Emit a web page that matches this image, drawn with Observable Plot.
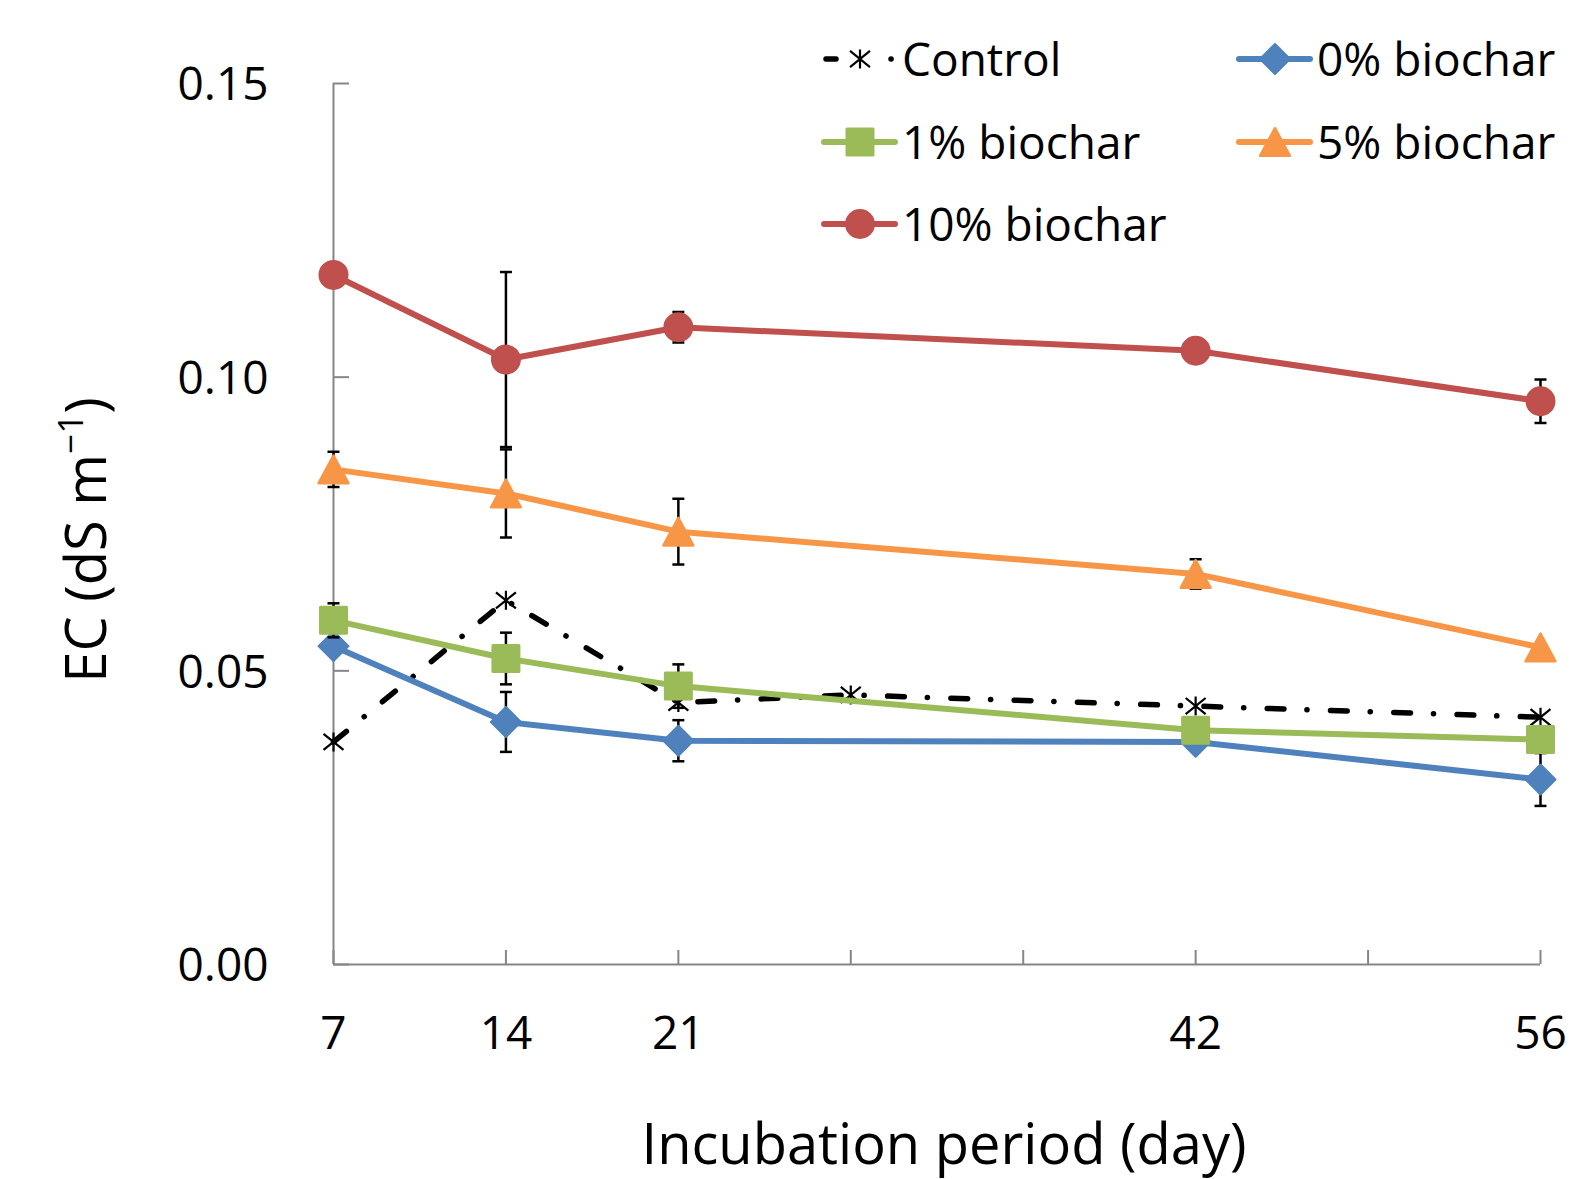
<!DOCTYPE html>
<html><head><meta charset="utf-8">
<script src="https://cdn.jsdelivr.net/npm/d3@7"></script>
<script src="https://cdn.jsdelivr.net/npm/@observablehq/plot@0.6"></script>
<style>
html,body{margin:0;padding:0;background:#fff;}
#wrap{position:relative;width:1585px;height:1179px;overflow:hidden;font-family:"Open Sans",sans-serif;}
#overlay{position:absolute;left:0;top:0;pointer-events:none;}
</style></head><body><div id="wrap"></div>
<script>
// ---- data ----
const days = [7, 14, 21, 42, 56];
const controlDays = [7, 14, 21, 28, 42, 56];
const controlEC = [0.0379, 0.0620, 0.0446, 0.0459, 0.0440, 0.0421];
const biochar0EC = [0.0542, 0.0413, 0.0381, 0.0379, 0.0315];
const biochar0Err = [0, 0.0051, 0.0035, 0, 0.0045];
const biochar1EC = [0.0586, 0.0521, 0.0474, 0.0399, 0.0383];
const biochar1Err = [0.0029, 0.0044, 0.0037, 0, 0];
const biochar5EC = [0.0843, 0.0802, 0.0737, 0.0665, 0.0540];
const biochar5Err = [0.0030, 0.0075, 0.0056, 0.0025, 0];
const biochar10EC = [0.1174, 0.1030, 0.1085, 0.1045, 0.0959];
const biochar10Err = [0, 0.0149, 0.0026, 0, 0.0037];
const seriesNames = ["Control", "0% biochar", "1% biochar", "5% biochar", "10% biochar"];
const seriesColors = ["#000000", "#4F81BD", "#9BBB59", "#F79646", "#C0504D"];
const xTicks = [7, 14, 21, 28, 35, 42, 49, 56];
const xTickLabels = [7, 14, 21, 42, 56];
const yTicks = [0, 0.05, 0.10, 0.15];
const xTitle = "Incubation period (day)";

// ---- symbols ----
const rad = s => Math.sqrt(s / Math.PI);
const symCircle = {draw(c, s){ const r = rad(s); c.moveTo(r, 0); c.arc(0, 0, r, 0, 2 * Math.PI); c.closePath(); }};
const symSquare = {draw(c, s){ const r = rad(s); c.moveTo(-r, -r); c.lineTo(r, -r); c.lineTo(r, r); c.lineTo(-r, r); c.closePath(); }};
const symDiamond = {draw(c, s){ const r = rad(s); c.moveTo(0, -r); c.lineTo(r, 0); c.lineTo(0, r); c.lineTo(-r, 0); c.closePath(); }};
const symTriangle = {draw(c, s){ const r = rad(s); c.moveTo(0, -r); c.lineTo(r * 1.08, r); c.lineTo(-r * 1.08, r); c.closePath(); }};
const symAsterisk = {draw(c, s){ const r = rad(s); c.moveTo(0, -r); c.lineTo(0, r); c.moveTo(-r * 1.05, -r * 0.85); c.lineTo(r * 1.05, r * 0.85); c.moveTo(-r * 1.05, r * 0.85); c.lineTo(r * 1.05, -r * 0.85); }};
const symCap = {draw(c, s){ const r = rad(s); c.moveTo(-r, 0); c.lineTo(r, 0); }};

const styles = [
  {symbol: symAsterisk, r: 9.5, fill: "none", sw: 2.2, dash: "16.7 23 0.1 23.5", lw: 5.5},
  {symbol: symDiamond, r: 15, fill: seriesColors[1], sw: 2, lw: 6},
  {symbol: symSquare, r: 13, fill: seriesColors[2], sw: 3, lw: 6},
  {symbol: symTriangle, r: 13.8, fill: seriesColors[3], sw: 2.5, lw: 6},
  {symbol: symCircle, r: 14, fill: seriesColors[4], sw: 2, lw: 6}
];

const seriesData = [
  {x: controlDays, y: controlEC, e: null},
  {x: days, y: biochar0EC, e: biochar0Err},
  {x: days, y: biochar1EC, e: biochar1Err},
  {x: days, y: biochar5EC, e: biochar5Err},
  {x: days, y: biochar10EC, e: biochar10Err}
];
const tables = seriesData.map((sd, k) => sd.x.map((d, i) => ({series: seriesNames[k], day: d, ec: sd.y[i], err: sd.e ? sd.e[i] : 0})));

const grey = "#868686";
const marks = [
  Plot.ruleY([0], {stroke: grey, strokeWidth: 2}),
  Plot.ruleX([7], {stroke: grey, strokeWidth: 2}),
  Plot.axisX(xTicks, {tickSize: -14, stroke: grey, strokeWidth: 2, fill: "none", label: null}),
  Plot.axisX(xTickLabels, {tickSize: 0, tickPadding: 52, fontSize: 46, fill: "black", label: null, tickFormat: d => String(d)}),
  Plot.axisY(yTicks, {tickSize: -16, stroke: grey, strokeWidth: 2, fill: "none", label: null}),
  Plot.axisY(yTicks, {tickSize: 0, tickPadding: 65, fontSize: 46, fill: "black", dy: 2, label: null, tickFormat: d3.format(".2f")})
];
tables.forEach((t, k) => {
  const st = styles[k];
  marks.push(Plot.line(t, {x: "day", y: "ec", stroke: seriesColors[k], strokeWidth: st.lw,
    strokeDasharray: st.dash, strokeLinecap: st.dash ? "round" : "butt", strokeLinejoin: "round"}));
  const et = t.filter(d => d.err > 0);
  if (et.length) {
    marks.push(Plot.ruleX(et, {x: "day", y1: d => d.ec - d.err, y2: d => d.ec + d.err, stroke: "black", strokeWidth: 2.5}));
    marks.push(Plot.dot(et, {x: "day", y: d => d.ec + d.err, symbol: symCap, r: 6, stroke: "black", strokeWidth: 2.5, fill: "none"}));
    marks.push(Plot.dot(et, {x: "day", y: d => d.ec - d.err, symbol: symCap, r: 6, stroke: "black", strokeWidth: 2.5, fill: "none"}));
  }
  marks.push(Plot.dot(t, {x: "day", y: "ec", symbol: st.symbol, r: st.r, fill: st.fill,
    stroke: seriesColors[k], strokeWidth: st.sw, strokeLinejoin: "round"}));
});

const chart = Plot.plot({
  width: 1585, height: 1179,
  marginLeft: 333, marginRight: 45, marginTop: 83, marginBottom: 215,
  x: {type: "linear", domain: [7, 56], axis: null},
  y: {type: "linear", domain: [0, 0.15], axis: null},
  style: {fontFamily: "'Open Sans', sans-serif", color: "black", background: "white"},
  marks
});
const wrap = document.getElementById("wrap");
wrap.appendChild(chart);

// ---- titles and legend overlay ----
const ov = d3.select(wrap).append("svg").attr("id", "overlay").attr("width", 1585).attr("height", 1179)
  .style("font-family", "'Open Sans', sans-serif");
ov.append("text").attr("x", 944).attr("y", 1164).attr("text-anchor", "middle").attr("font-size", 56).text(xTitle);
const yt = ov.append("text").attr("transform", "translate(106,540) rotate(-90)").attr("text-anchor", "middle").attr("font-size", 56);
yt.append("tspan").text("EC (dS m");
yt.append("tspan").attr("font-size", 35).attr("dy", -23).text("\u22121");
yt.append("tspan").attr("dy", 23).text(")");

const colX = [824, 1239], rowY = [59, 142, 224];
seriesNames.forEach((name, k) => {
  const st = styles[k];
  const g = ov.append("g").attr("transform", `translate(${colX[k % 2]},${rowY[Math.floor(k / 2)]})`);
  if (k === 0) {
    g.append("line").attr("x1", 2).attr("x2", 71).attr("stroke", "black").attr("stroke-width", 5.5)
      .attr("stroke-linecap", "round").attr("stroke-dasharray", "10 55 0.1 100");
  } else {
    g.append("line").attr("x1", 0).attr("x2", 71).attr("stroke", seriesColors[k]).attr("stroke-width", 6).attr("stroke-linecap", "round");
  }
  g.append("path").attr("transform", "translate(36,0)")
    .attr("d", d3.symbol(st.symbol, Math.PI * st.r * st.r)())
    .attr("fill", st.fill).attr("stroke", seriesColors[k]).attr("stroke-width", st.sw).attr("stroke-linejoin", "round");
  g.append("text").attr("x", 78).attr("dy", "0.36em").attr("font-size", 46).text(name);
});
</script></body></html>
